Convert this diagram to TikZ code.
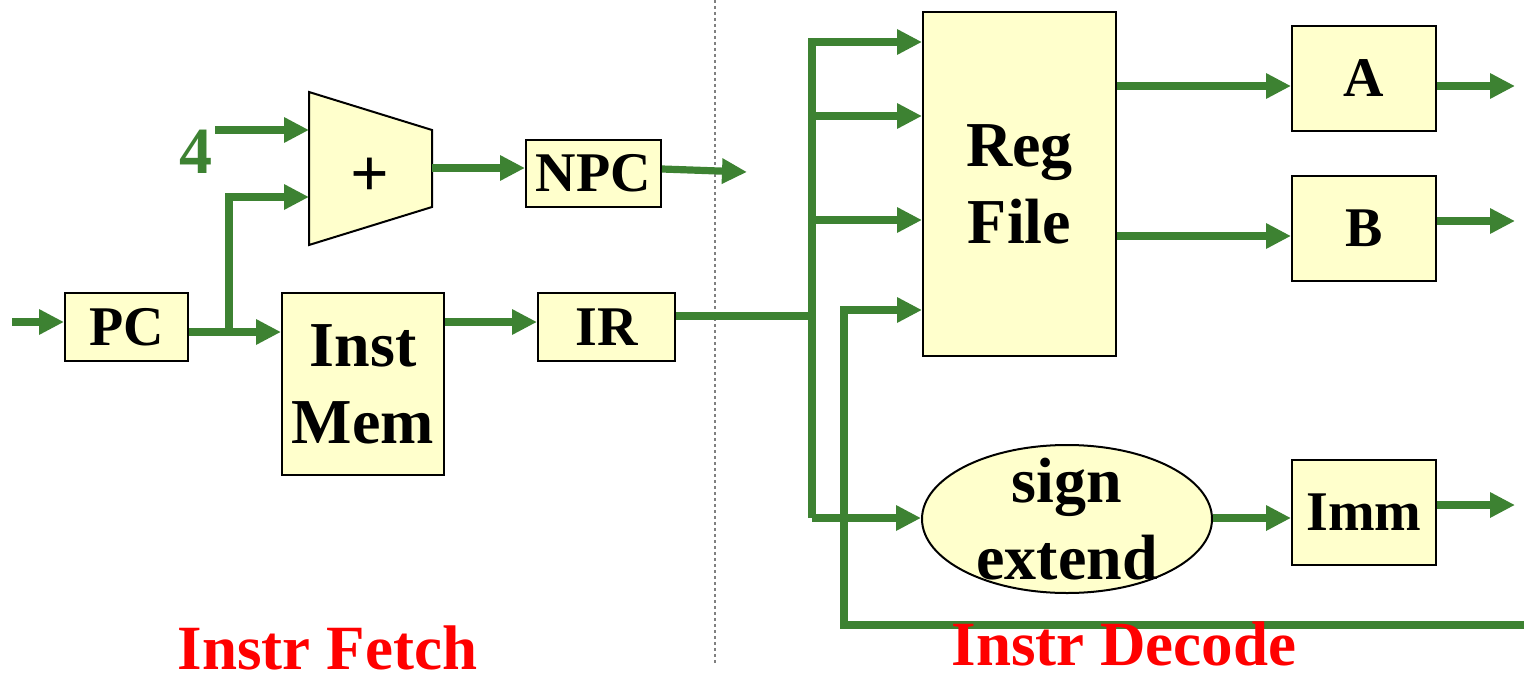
\documentclass[tikz,border=0pt]{standalone}
\usepackage{fontspec}
\setmainfont{Liberation Serif}
\usetikzlibrary{arrows.meta,shapes.geometric}
\definecolor{wiregreen}{RGB}{61,130,50}
\definecolor{boxfill}{RGB}{255,255,204}
\definecolor{labelred}{RGB}{255,0,0}
\begin{document}
\begin{tikzpicture}[x=0.5pt,y=-0.5pt,
  wire/.style={draw=wiregreen,line width=3.6pt,line join=miter},
  arr/.style={-{Triangle[length=12.5pt,width=12pt]}},
  reg/.style={draw=black,line width=1pt,fill=boxfill,inner sep=0pt,font=\fontsize{28}{32}\selectfont\bfseries},
  big/.style={draw=black,line width=1pt,fill=boxfill,inner sep=0pt,align=center,font=\fontsize{32}{38.5}\selectfont\bfseries},
  stage/.style={text=labelred,font=\fontsize{31.5}{36}\selectfont\bfseries,anchor=base,inner sep=0pt},
]
\useasboundingbox (0,0) rectangle (1524,674);

% divider
\coordinate (divtop) at (715,0);
\coordinate (divbot) at (715,665);
\draw[gray,line width=0.6pt,dash pattern=on 1.5pt off 1.5pt] (divtop) -- (divbot);

% adder
\draw[line width=1pt,fill=boxfill] (309,92) -- (432,130) -- (432,207) -- (309,245) -- cycle;
\node[inner sep=0pt,font=\fontsize{34}{36}\selectfont\bfseries] (plus) at (370,177) {+};
\coordinate (addin1) at (309,130);
\coordinate (addin2) at (309,197);
\coordinate (addout) at (432,168);

% boxes
\node[reg,minimum width=61.5pt,minimum height=34pt] (pc) at (126.5,327) {PC};
\node[big,minimum width=81pt,minimum height=91pt] (inst) at (363,384) {Inst\\Mem};
\node[reg,minimum width=67.5pt,minimum height=33.5pt] (npc) at (593.5,173.5) {NPC};
\node[reg,minimum width=68.5pt,minimum height=34pt] (ir) at (606.5,327) {IR};
\node[big,minimum width=96.5pt,minimum height=172pt] (rf) at (1019.5,184) {Reg\\File};
\node[reg,minimum width=72pt,minimum height=52.5pt] (a) at (1364,78.5) {A};
\node[reg,minimum width=72pt,minimum height=52.5pt] (b) at (1364,228.5) {B};
\node[reg,minimum width=72pt,minimum height=52.5pt] (imm) at (1364,512.5) {Imm};
\node[big,ellipse,inner ysep=-6pt,minimum width=145pt,minimum height=74pt] (se) at (1067,519) {sign\\extend};

% constant 4
\node[text=wiregreen,font=\fontsize{33}{36}\selectfont\bfseries,anchor=base,inner sep=0pt] (four) at (196,173) {4};
\coordinate (fourout) at (215,130);

% fetch wires
\coordinate (pcin) at (12,322);
\draw[wire,arr] (pcin) -- (pcin -| pc.west);
\coordinate (split) at (229,332);
\draw[wire,arr] (pc.east |- split) -- (split -| inst.west);
\draw[wire,arr] (split) -- (split |- addin2) -- (addin2);
\draw[wire,arr] (fourout) -- (addin1);
\draw[wire,arr] (addout) -- (addout -| npc.west);
\coordinate (npcend) at (747,172);
\draw[wire,arr] (npc.east |- 0,169) -- (npcend);
\draw[wire,arr] (inst.east |- 0,322) -- (ir.west |- 0,322);

% decode bus
\coordinate (bustop) at (812,42);
\coordinate (busbot) at (812,518);
\draw[wire] (ir.east |- 0,316) -- (bustop |- 0,316);
\draw[wire,arr] (busbot) -- (bustop) -- (bustop -| rf.west);
\draw[wire,arr] (812,116) -- (rf.west |- 0,116);
\draw[wire,arr] (812,220) -- (rf.west |- 0,220);
\draw[wire,arr] (busbot) -- (busbot -| se.west);
\coordinate (sbr) at (1524,625);
\coordinate (sbl) at (844,625);
\coordinate (stop) at (844,310);
\draw[wire,arr] (sbr) -- (sbl) -- (stop) -- (stop -| rf.west);

% outputs
\draw[wire,arr] (rf.east |- 0,86) -- (a.west |- 0,86);
\draw[wire,arr] (rf.east |- 0,236) -- (b.west |- 0,236);
\draw[wire,arr] (se.east |- 0,518) -- (imm.west |- 0,518);
\coordinate (aend) at (1515,86);
\coordinate (bend) at (1515,221);
\coordinate (immend) at (1515,505);
\draw[wire,arr] (a.east |- aend) -- (aend);
\draw[wire,arr] (b.east |- bend) -- (bend);
\draw[wire,arr] (imm.east |- immend) -- (immend);

% stage labels
\node[stage] (fetchlbl) at (327.5,669) {Instr Fetch};
\node[stage] (decodelbl) at (1124,665) {Instr Decode};
\end{tikzpicture}
\end{document}
